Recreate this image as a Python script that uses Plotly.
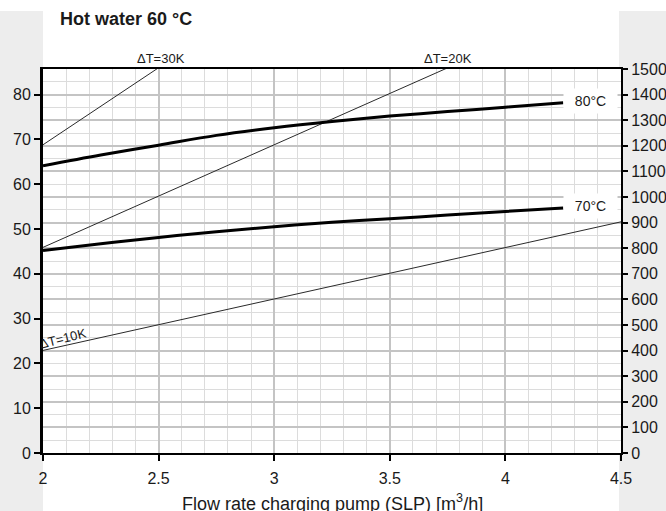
import plotly.graph_objects as go

# Flow rate of the charging pump [m3/h]
flow = [2.0, 2.25, 2.5, 2.75, 3.0, 3.25, 3.5, 3.75, 4.0, 4.25]
# Charging power [kW] for hot water 60 °C at two flow temperatures
power_80c = [64.1, 66.5, 68.7, 70.9, 72.6, 74.0, 75.2, 76.2, 77.2, 78.2]
power_70c = [45.2, 46.7, 48.1, 49.4, 50.5, 51.5, 52.3, 53.1, 53.9, 54.7]

# Constant temperature-spread reference lines (flow, power)
dt30_flow, dt30_power = [2.0, 2.5], [68.8, 86.0]
dt20_flow, dt20_power = [2.0, 4.0], [45.9, 91.7]
dt10_flow, dt10_power = [2.0, 4.5], [22.9, 51.6]

x_ticks = [2, 2.5, 3, 3.5, 4, 4.5]
left_ticks = [0, 10, 20, 30, 40, 50, 60, 70, 80]
right_ticks = list(range(0, 1600, 100))
right_max = 1500
left_max = 85.714

FONT = "Liberation Sans, Arial, sans-serif"
GRAY = "#ededed"
TXT = "#1a1a1a"
NBSP = "\u00a0"

fig = go.Figure()

for fx, fy in [(dt30_flow, dt30_power), (dt20_flow, dt20_power), (dt10_flow, dt10_power)]:
    fig.add_trace(go.Scatter(x=fx, y=fy, mode="lines",
                             line=dict(color="#2a2a2a", width=1),
                             showlegend=False, hoverinfo="skip"))

for fy in (power_80c, power_70c):
    fig.add_trace(go.Scatter(x=flow, y=fy, mode="lines",
                             line=dict(color="black", width=3, shape="spline"),
                             showlegend=False))

# empty trace so the secondary (l/h) axis is drawn
fig.add_trace(go.Scatter(x=[None], y=[None], yaxis="y2", showlegend=False, hoverinfo="skip"))

W, H = 666, 511
L, R, T, B = 43, 45, 69, 58
pw, ph = W - L - R, H - T - B


def px_x(p):
    return (p - L) / pw


def px_y(p):
    return (H - B - p) / ph


shapes = [
    # white column behind the chart and its captions
    dict(type="rect", xref="paper", yref="paper", layer="below",
         x0=0, x1=px_x(619), y0=px_y(H), y1=px_y(0),
         fillcolor="white", line=dict(width=0)),
    # white strip along the top edge
    dict(type="rect", xref="paper", yref="paper", layer="below",
         x0=px_x(0), x1=px_x(W), y0=px_y(11), y1=px_y(0),
         fillcolor="white", line=dict(width=0)),
]

annotations = [
    dict(text="<b>Hot water 60 °C</b>", xref="paper", yref="paper",
         x=px_x(58), y=px_y(19), xanchor="left", yanchor="middle",
         showarrow=False, font=dict(size=18, family=FONT, color=TXT)),
    dict(text="Flow rate charging pump (SLP) [m<sup>3</sup>/h]", xref="paper", yref="paper",
         x=px_x(332), y=px_y(502), xanchor="center", yanchor="middle",
         showarrow=False, font=dict(size=18, family=FONT, color=TXT)),
    dict(text="ΔT=30K", xref="x", yref="paper", x=2.51, y=px_y(59),
         xanchor="center", yanchor="middle", showarrow=False,
         font=dict(size=13, family=FONT, color=TXT)),
    dict(text="ΔT=20K", xref="x", yref="paper", x=3.75, y=px_y(59),
         xanchor="center", yanchor="middle", showarrow=False,
         font=dict(size=13, family=FONT, color=TXT)),
    dict(text="ΔT=10K", xref="x", yref="y", x=2.087, y=25.6, textangle=-14,
         xanchor="center", yanchor="middle", showarrow=False,
         font=dict(size=13, family=FONT, color=TXT)),
]

for label, series in (("80°C", power_80c), ("70°C", power_70c)):
    annotations.append(dict(
        text=label, xref="x", yref="y", x=flow[-1], y=series[-1],
        xanchor="left", yanchor="middle", yshift=2, showarrow=False,
        bgcolor="white", width=53, height=24, borderpad=0, align="center",
        font=dict(size=14, family=FONT, color=TXT)))

fig.update_layout(
    width=W, height=H,
    margin=dict(l=L, r=R, t=T, b=B, pad=0, autoexpand=False),
    paper_bgcolor=GRAY, plot_bgcolor="white",
    font=dict(family=FONT, size=16, color=TXT),
    showlegend=False,
    shapes=shapes,
    annotations=annotations,
    xaxis=dict(
        range=[2, 4.5], tickvals=x_ticks, ticks="outside", ticklen=6,
        tickwidth=1.5, tickcolor="black", automargin=False, ticklabelstandoff=4,
        showline=True, linecolor="black", linewidth=2, mirror=True,
        showgrid=True, gridcolor="#c4c4c4", gridwidth=2,
        minor=dict(dtick=0.1, showgrid=True, gridcolor="#dcdcdc", gridwidth=1.3),
        zeroline=False, tickfont=dict(size=16, family=FONT, color=TXT),
    ),
    yaxis=dict(
        range=[0, left_max], tickvals=left_ticks, ticks="outside", ticklen=6,
        tickwidth=1.5, tickcolor="black", automargin=False, ticksuffix=NBSP,
        showline=True, linecolor="black", linewidth=3,
        showgrid=False, zeroline=False,
        tickfont=dict(size=16, family=FONT, color=TXT),
    ),
    yaxis2=dict(
        range=[0, right_max], tickvals=right_ticks, overlaying="y", side="right",
        anchor="x", ticks="outside", ticklen=5, tickwidth=1.5, tickcolor="black",
        automargin=False, tickprefix=NBSP,
        showline=True, linecolor="black", linewidth=2,
        showgrid=True, gridcolor="#c4c4c4", gridwidth=2,
        minor=dict(dtick=50, showgrid=True, gridcolor="#dcdcdc", gridwidth=1.3),
        zeroline=False, tickfont=dict(size=16, family=FONT, color=TXT),
    ),
)

fig.write_html("out.html")
